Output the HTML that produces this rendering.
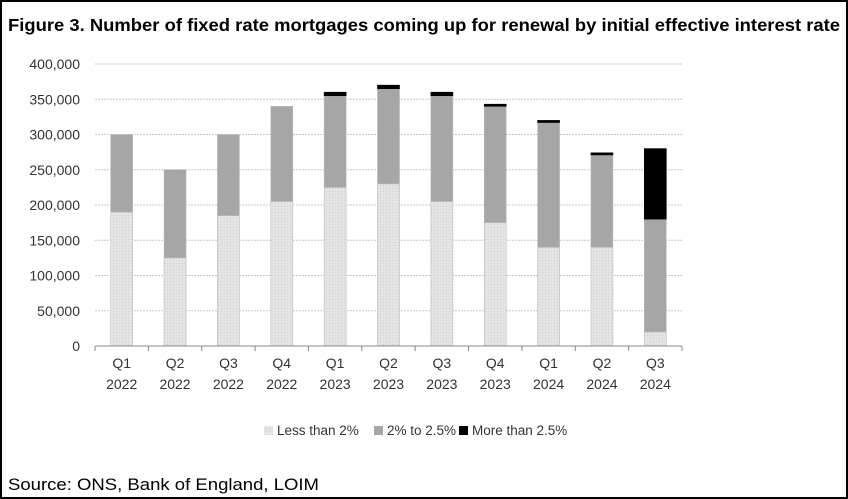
<!DOCTYPE html>
<html><head><meta charset="utf-8"><style>
body{margin:0;background:#fff;}
#wrap{position:relative;width:844px;height:495px;border:2px solid #000;overflow:hidden;font-family:"Liberation Sans",sans-serif;}
svg{position:absolute;left:0;top:0}
</style></head><body>
<div id="wrap">
<svg id="chart" width="844" height="495">
<defs><pattern id="dots" width="3" height="3" patternUnits="userSpaceOnUse"><rect width="3" height="3" fill="#e4e4e4"/><rect width="1" height="1" fill="#cfcfcf"/></pattern></defs>
<text x="6" y="29" font-size="17.5" font-weight="bold" fill="#000" textLength="832" lengthAdjust="spacingAndGlyphs">Figure 3. Number of fixed rate mortgages coming up for renewal by initial effective interest rate</text>
<text x="6" y="488" font-size="17" fill="#000" textLength="311" lengthAdjust="spacingAndGlyphs">Source: ONS, Bank of England, LOIM</text>
</svg>
</div>
<script>
const cats1=["Q1","Q2","Q3","Q4","Q1","Q2","Q3","Q4","Q1","Q2","Q3"];
const cats2=["2022","2022","2022","2022","2023","2023","2023","2023","2024","2024","2024"];
const lessThan2=[190000,125000,185000,205000,225000,230000,205000,175000,140000,140000,20000];
const from2to25=[110000,125000,115000,135000,130000,135000,150000,165000,177000,131000,160000];
const moreThan25=[0,0,0,0,5000,5000,5000,3000,3000,3000,100000];
const yTicks=[0,50000,100000,150000,200000,250000,300000,350000,400000];
const seriesNames=["Less than 2%","2% to 2.5%","More than 2.5%"];
const svg=document.getElementById('chart');const NS='http://www.w3.org/2000/svg';
const x0=93,x1=680,yb=344,yt=62,ymax=400000;
const y=v=>yb-(v/ymax)*(yb-yt);
const step=(x1-x0)/cats1.length;
const xc=i=>x0+step*(i+0.5);
function mk(t,a){const e=document.createElementNS(NS,t);for(const k in a)e.setAttribute(k,a[k]);svg.appendChild(e);return e;}
yTicks.forEach(v=>{
  if(v>0){const g=mk('line',{x1:x0,x2:x1,y1:y(v),y2:y(v),stroke:'#c8c8c8','stroke-dasharray':'2,1'});
  
  }
  const t=mk('text',{x:78,y:y(v)+5,'text-anchor':'end','font-size':'14',fill:'#333'});
  t.textContent=v.toLocaleString('en-US');
  
  
});
const bw=22;
const fills=['url(#dots)','#a6a6a6','#000'];
cats1.forEach((c,i)=>{
  let base=0;
  [lessThan2[i],from2to25[i],moreThan25[i]].forEach((v,s)=>{
    if(v<=0)return;
    const r=mk('rect',{x:xc(i)-bw/2,y:y(base+v),width:bw,height:y(base)-y(base+v),fill:fills[s],stroke:s==2?'#000':'#bbb','stroke-width':0.6});
    
    
    base+=v;
  });
  const t1=mk('text',{x:xc(i),y:yb+22,'text-anchor':'middle','font-size':'14',fill:'#333'});t1.textContent=c;
  
  
  const t2=mk('text',{x:xc(i),y:yb+43,'text-anchor':'middle','font-size':'14',fill:'#333'});t2.textContent=cats2[i];
  
  
});
const ax=mk('line',{x1:x0,x2:x1,y1:yb,y2:yb,stroke:'#888','stroke-width':1});


for(let i=0;i<=cats1.length;i++){const tk=mk('line',{x1:x0+step*i,x2:x0+step*i,y1:yb,y2:yb+5,stroke:'#888'});

}
const lx=[262,372,457];
seriesNames.forEach((n,s)=>{
  const r=mk('rect',{x:lx[s],y:424,width:9,height:9,fill:fills[s]});
  
  
  const t=mk('text',{x:lx[s]+13,y:433,'font-size':'13.5',fill:'#333'});t.textContent=n;
  
  
});
</script>
</body></html>
